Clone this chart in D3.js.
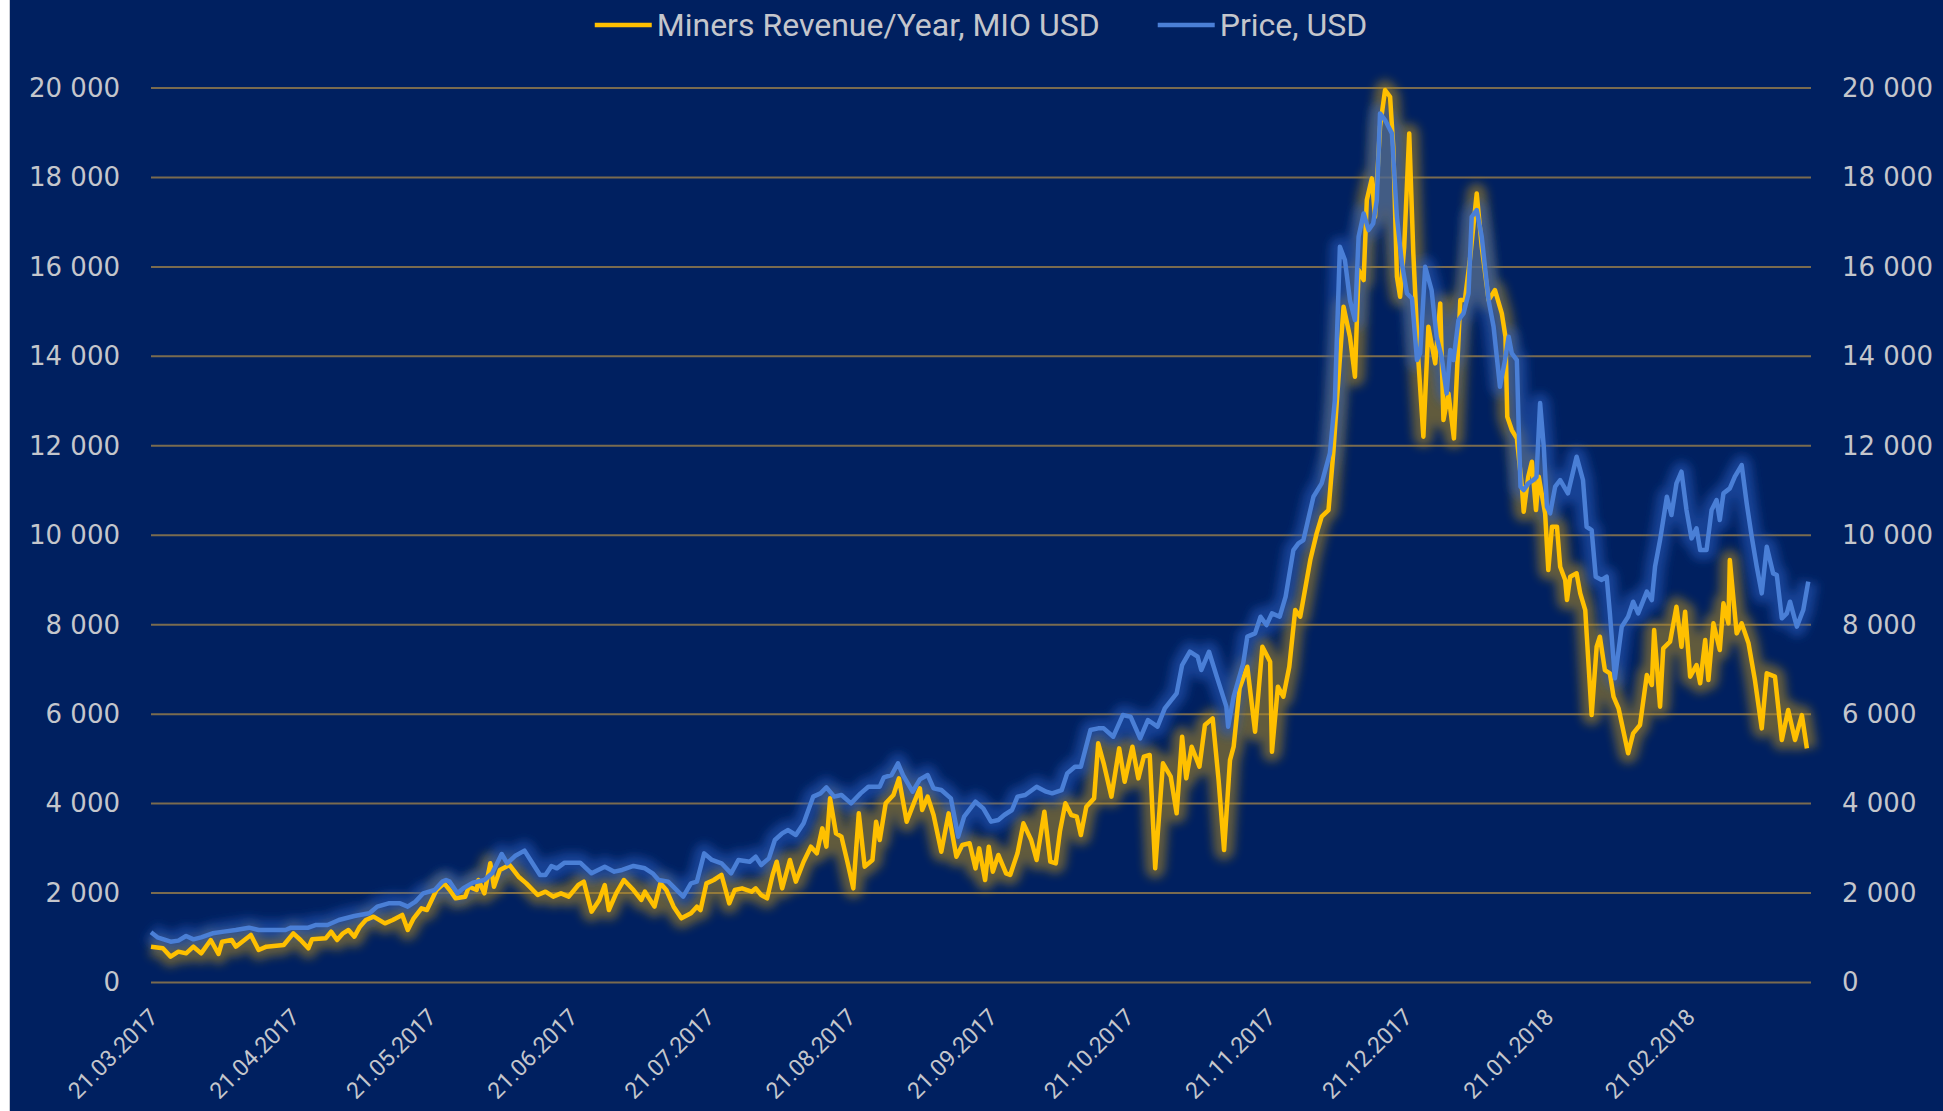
<!DOCTYPE html>
<html>
<head>
<meta charset="utf-8">
<script src="https://cdn.jsdelivr.net/npm/d3@7"></script>
<style>
  html, body { margin: 0; padding: 0; background: #ffffff; }
  svg { display: block; }
</style>
</head>
<body>
<svg id="chart"></svg>
<script>
// values: [days since 21.03.2017, value]
var startDay = "21.03.2017";
var lastDay = "20.03.2018";
var dateLabels = ["21.03.2017", "21.04.2017", "21.05.2017", "21.06.2017", "21.07.2017", "21.08.2017",
                  "21.09.2017", "21.10.2017", "21.11.2017", "21.12.2017", "21.01.2018", "21.02.2018"];
var valueTicks = [0, 2000, 4000, 6000, 8000, 10000, 12000, 14000, 16000, 18000, 20000];
var seriesNames = ["Miners Revenue/Year, MIO USD", "Price, USD"];

var revenue = [
  [0,801],[2.6,764],[4.3,578],[6,690],[7.7,652],[9.3,801],[11,652],[13.1,950],[14.8,637],[15.6,913],
  [17.7,950],[18.6,801],[21.9,1062],[23.6,727],[25.3,801],[29.1,839],[31.2,1100],[32.8,950],[34.5,764],
  [35.3,965],[38.3,988],[39.5,1137],[40.8,950],[42.1,1100],[43.3,1174],[44.6,1025],[45.8,1249],[47.1,1398],
  [48.8,1472],[51.3,1323],[53,1398],[55.1,1510],[56.3,1174],[57.6,1435],[59.3,1658],[60.5,1621],[62.6,2068],
  [64.3,2217],[65.5,2068],[66.8,1882],[68.9,1919],[69.7,2143],[71.4,2068],[71.8,2292],[73.1,1994],[74.4,2665],
  [75.2,2143],[76.5,2516],[78.6,2627],[80.6,2366],[82.3,2217],[84.8,1956],[86.5,2031],[88.2,1919],[89.9,1994],
  [91.6,1919],[93.7,2180],[94.9,2255],[96.6,1584],[98.3,1845],[99.5,2180],[100.4,1621],[102,1994],[103.7,2292],
  [105.8,2068],[107.5,1845],[108.3,2031],[110.4,1696],[111.7,2217],[113,2068],[114.6,1696],[116.3,1435],
  [118.4,1547],[119.7,1696],[120.5,1621],[121.8,2217],[123.4,2292],[125.1,2404],[126.8,1770],[128,2068],
  [129.6,2105],[131.7,2031],[132.6,2105],[133.8,1956],[135.1,1882],[136.3,2404],[137.2,2701],[138.4,2105],
  [140.1,2739],[141.4,2255],[143.1,2701],[144.7,3037],[146,2888],[147.2,3447],[148.1,3037],[148.9,4117],
  [150.2,3335],[151.4,3260],[152.7,2701],[154,2105],[155.2,3782],[156.5,2590],[158.2,2739],[159,3596],
  [159.8,3186],[161.1,4006],[162.8,4192],[164,4564],[165.7,3596],[167.4,4043],[168.6,4341],[169.1,3857],
  [170.3,4155],[171.6,3745],[173.3,2925],[174.9,3782],[176.6,2813],[177.9,3074],[179.5,3112],[180.8,2552],
  [181.6,2999],[182.9,2292],[183.7,3037],[184.6,2478],[185.8,2851],[187.5,2441],[188.4,2404],[190,2888],
  [191.3,3559],[193,3186],[194.2,2739],[195.9,3819],[197.2,2701],[198.4,2664],[199.3,3372],[200.5,4006],
  [201.8,3745],[203,3708],[203.9,3298],[205.1,3931],[206.8,4117],[207.7,5347],[208.9,4900],[210.6,4155],
  [212.3,5235],[213.5,4490],[215.2,5272],[216.5,4564],[217.7,5049],[219,5086],[220.2,2552],[221.9,4900],
  [223.6,4602],[224.9,3782],[226.1,5496],[227,4564],[228.2,5272],[229.9,4825],[231.1,5757],[232.8,5906],
  [234.1,4527],[235.3,2962],[236.6,4974],[237.4,5272],[238.7,6577],[240.4,7061],[242.1,5608],[243.7,7508],
  [245.4,7173],[245.8,5161],[247.1,6614],[248.3,6391],[249.6,7061],[250.9,8328],[252,8179],[254.2,9446],
  [255.6,10042],[256.7,10415],[258.2,10564],[259.3,11905],[260,12948],[261.5,15110],[262.9,14439],[264,13545],
  [264.8,15929],[265.9,15706],[266.6,17494],[267.7,17979],[268.4,17121],[269.5,19134],[270.6,19953],
  [271.7,19804],[272.4,18686],[273.2,15780],[273.9,15333],[274.8,16451],[275.9,18985],[276.8,16302],
  [277.9,13917],[279,12203],[280.1,14662],[281.6,13843],[282.7,15184],[283.4,12576],[284.5,13172],
  [285.7,12166],[287.1,15258],[288.1,15258],[289.2,16153],[290.7,17643],[291.8,16451],[293.3,15258],
  [294.7,15482],[296.2,14960],[297,14439],[297.4,12650],[298.4,12352],[299.5,12166],[300.6,11086],[301,10526],
  [302,11309],[302.8,11644],[303.7,10564],[304.3,11309],[305.7,10489],[306.4,9222],[307.2,10190],[308.3,10190],
  [309,9296],[310.1,8999],[310.5,8551],[311.2,9073],[312.6,9148],[313.4,8701],[314.5,8328],[314.8,7813],
  [315.9,5980],[317,7508],[317.7,7732],[318.8,6987],[319.9,6913],[320.7,6391],[321.8,6130],[323.9,5124],
  [325,5570],[326.5,5757],[328,6875],[329.1,6652],[329.6,7881],[330.9,6167],[331.6,7471],[333.1,7620],
  [334.5,8403],[335.6,7508],[336.4,8291],[337.5,6838],[338.9,7098],[339.7,6689],[340.8,7657],[341.5,6764],
  [342.6,8030],[344,7434],[344.8,8477],[345.9,8030],[346.2,9446],[347.7,7806],[348.8,8030],[350.3,7583],
  [351.7,6764],[353.2,5682],[354.3,6913],[356.1,6838],[357.6,5422],[359,6093],[360.5,5422],[362,5980],
  [363.1,5236]
];

var price = [
  [0,1122],[1.4,1010],[4.3,913],[6,936],[7.7,1040],[9.3,965],[11,1010],[13.5,1100],[16,1137],[18.6,1174],
  [21.5,1226],[23.6,1174],[29.5,1174],[30.7,1226],[34.5,1226],[36.2,1286],[38.7,1286],[41.2,1398],[44.6,1487],
  [47.9,1547],[49.6,1696],[52.1,1770],[54.6,1770],[56.3,1696],[58,1808],[59.7,1994],[62.2,2068],[63.9,2255],
  [64.7,2292],[65.5,2255],[67.2,1994],[68.5,2106],[70.6,2232],[73.1,2292],[74.8,2441],[76.9,2873],[78.1,2665],
  [79.8,2828],[81.9,2948],[83.2,2739],[85.3,2404],[86.5,2404],[87.8,2605],[89,2553],[90.7,2680],[94.1,2680],
  [96.6,2441],[99.5,2590],[101.6,2478],[103.3,2516],[105.8,2605],[108.3,2553],[110,2441],[111.3,2292],
  [113.4,2255],[116.7,1919],[118.4,2217],[119.7,2255],[121.3,2888],[123,2739],[125.1,2665],[127.2,2441],
  [128.8,2739],[131.3,2701],[132.6,2813],[133.8,2627],[135.5,2776],[136.8,3186],[138.4,3335],[139.7,3409],
  [141.4,3298],[143.1,3559],[145.2,4155],[146.8,4229],[148.1,4363],[149.8,4155],[151.4,4192],[153.5,4006],
  [155.6,4229],[157.3,4378],[159.8,4378],[160.7,4587],[162.4,4639],[163.8,4900],[164.9,4639],[167,4266],
  [168.6,4542],[170.3,4639],[171.6,4341],[173.3,4304],[175.4,4117],[177,3260],[178.3,3708],[180.8,4043],
  [182.5,3894],[184.2,3596],[185.8,3633],[187.1,3745],[188.8,3857],[190,4155],[191.7,4192],[194.2,4378],
  [196.3,4266],[197.6,4229],[199.7,4304],[200.9,4676],[202.6,4825],[203.9,4825],[206,5645],[207.7,5683],
  [208.9,5683],[211,5496],[213.1,5980],[214.8,5943],[216.9,5459],[218.6,5869],[220.7,5720],[222.3,6130],
  [224.9,6465],[226.1,7098],[227.8,7396],[229.5,7284],[230.3,6987],[232,7396],[233.7,6838],[235.8,6167],
  [236.2,5720],[237.4,6391],[239.5,7135],[240.4,7732],[242.1,7806],[243.3,8179],[244.6,7992],[245.8,8254],
  [247.5,8179],[248.8,8626],[250.5,9669],[251.6,9819],[252.7,9893],[254.9,10862],[256.7,11160],[258.5,11830],
  [259.6,13023],[260.7,16451],[261.8,16153],[262.9,15258],[264,14811],[264.8,16674],[265.9,17196],[267,16823],
  [268,16972],[268.8,17494],[269.5,19432],[270.6,19283],[272.1,18985],[273.2,17121],[274.3,16078],
  [275.4,15408],[276.5,15296],[277.6,13917],[278.3,14066],[279.4,16004],[280.8,15482],[281.9,14439],
  [283,13992],[284.1,13172],[284.9,14141],[285.6,13917],[286.7,14811],[287.8,14960],[288.9,15408],
  [289.6,17121],[290.7,17271],[291.8,16674],[293.3,15258],[294.4,14662],[295.8,13321],[296.9,13917],
  [297.7,14439],[298.4,14066],[299.5,13917],[299.9,12426],[300.3,11086],[301,11011],[302,11160],[303.1,11235],
  [303.8,11300],[304.6,12955],[305.4,11979],[306.1,10637],[306.8,10489],[307.9,11086],[309,11235],
  [310.7,10936],[312.6,11756],[314,11235],[314.8,10190],[315.9,10116],[316.8,9073],[318.1,9000],[319.2,9073],
  [319.9,8254],[321,6801],[322.5,7956],[323.9,8179],[325,8514],[326.1,8254],[328,8738],[329.1,8552],
  [329.8,9297],[330.9,9893],[332.4,10862],[333.4,10452],[334.5,11160],[335.6,11421],[336.7,10564],
  [337.8,9930],[338.9,10154],[339.7,9670],[341.1,9670],[342.2,10564],[343.3,10787],[344,10340],[344.8,10936],
  [346.2,11048],[347.3,11309],[348.8,11570],[349.9,10713],[351,9968],[352.1,9297],[353.2,8701],[354.3,9744],
  [355.7,9148],[356.5,9111],[357.6,8142],[358.7,8254],[359.4,8514],[360.9,7956],[362.3,8328],[363.4,8962]
];

var W = 1943, H = 1111;
var margin = {top: 88, right: 132, bottom: 128.5, left: 151};
var width = W - margin.left - margin.right;
var height = H - margin.top - margin.bottom;

var parseDay = d3.timeParse("%d.%m.%Y");
var fmtDay = d3.timeFormat("%d.%m.%Y");
var t0 = parseDay(startDay);
function toDate(days) { return new Date(t0.getTime() + days * 864e5); }

var numFmt = d3.formatLocale({decimal: ",", thousands: " ", grouping: [3], currency: ["", ""]}).format(",d");

var x = d3.scaleTime().domain([t0, parseDay(lastDay)]).range([0, width]);
var y = d3.scaleLinear().domain([0, 20000]).range([height, 0]);

var svg = d3.select("#chart").attr("width", W).attr("height", H);

// background, with the thin white margin on the left
svg.append("rect").attr("x", 10).attr("y", 0).attr("width", W - 10).attr("height", H).attr("fill", "#002060");
svg.append("line").attr("x1", 9.5).attr("x2", 9.5).attr("y1", 0).attr("y2", H)
  .attr("stroke", "#c9ccd3").attr("stroke-width", 1);

var defs = svg.append("defs");
defs.append("filter").attr("id", "glow")
  .attr("x", "-10%").attr("y", "-10%").attr("width", "120%").attr("height", "120%")
  .append("feGaussianBlur").attr("stdDeviation", 5);

var main = svg.append("g").attr("transform", "translate(" + margin.left + "," + margin.top + ")");

// horizontal grid lines
main.append("g").selectAll("line").data(valueTicks).enter().append("line")
  .attr("x1", 0).attr("x2", width)
  .attr("y1", function(d) { return y(d); }).attr("y2", function(d) { return y(d); })
  .attr("stroke", "#7a6b4f").attr("stroke-width", 2);

// value axes, left and right
var yLeft = main.append("g").attr("class", "axis")
  .call(d3.axisLeft(y).tickValues(valueTicks).tickSize(0).tickPadding(31).tickFormat(numFmt));
var yRight = main.append("g").attr("class", "axis").attr("transform", "translate(" + width + ",0)")
  .call(d3.axisRight(y).tickValues(valueTicks).tickSize(0).tickPadding(31).tickFormat(numFmt));
[yLeft, yRight].forEach(function(g) {
  g.select(".domain").remove();
  g.selectAll("text").style("font-family", "'DejaVu Sans', sans-serif").style("font-size", "26px")
    .attr("fill", "#c4c6cc");
});

// date axis with rotated labels
var xAxis = main.append("g").attr("transform", "translate(0," + height + ")")
  .call(d3.axisBottom(x).tickValues(dateLabels.map(parseDay)).tickSize(0).tickFormat(fmtDay));
xAxis.select(".domain").remove();
xAxis.selectAll("text")
  .attr("x", 0).attr("y", 0).attr("dy", 0)
  .attr("transform", "translate(8,36) rotate(-45)")
  .style("text-anchor", "end")
  .style("font-family", "Roboto, sans-serif").style("font-size", "23px")
  .attr("fill", "#c4c6cc");

var line = d3.line()
  .x(function(d) { return x(toDate(d[0])); })
  .y(function(d) { return y(d[1]); });

var series = [
  {name: seriesNames[0], values: revenue, color: "#ffc000", glow: "#b08a20"},
  {name: seriesNames[1], values: price, color: "#4a7fd6", glow: "#2c5cc0"}
];

// soft glow under both lines, then the lines themselves (price on top)
series.forEach(function(s) {
  main.append("path").datum(s.values)
    .attr("d", line).attr("fill", "none")
    .attr("stroke", s.glow).attr("stroke-width", 20).attr("stroke-opacity", 0.55)
    .attr("stroke-linejoin", "round")
    .attr("filter", "url(#glow)");
});
series.forEach(function(s) {
  main.append("path").datum(s.values)
    .attr("d", line).attr("fill", "none")
    .attr("stroke", s.color).attr("stroke-width", 4.5)
    .attr("stroke-linejoin", "round");
});

// legend centred above the plot
var legend = svg.append("g");
var itemW = [];
series.forEach(function(s) {
  var g = legend.append("g");
  g.append("line").attr("x1", 0).attr("x2", 57).attr("y1", 0).attr("y2", 0)
    .attr("stroke", s.color).attr("stroke-width", 4.5);
  var t = g.append("text").attr("x", 62).attr("y", 11).text(s.name)
    .style("font-family", "Roboto, sans-serif").style("font-size", "32px")
    .attr("fill", "#c4c6cc");
  itemW.push(62 + t.node().getComputedTextLength());
});
var gap = 58;
var total = d3.sum(itemW) + gap * (itemW.length - 1);
var lx = margin.left + width / 2 - total / 2;
legend.selectAll("g").each(function(d, i) {
  d3.select(this).attr("transform", "translate(" + lx + ",25)");
  lx += itemW[i] + gap;
});
</script>
</body>
</html>
